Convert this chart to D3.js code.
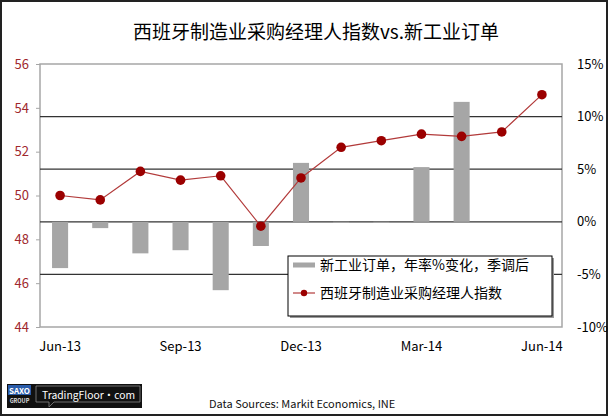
<!DOCTYPE html>
<html>
<head>
<meta charset="utf-8">
<script src="https://cdn.jsdelivr.net/npm/d3@7"></script>
<style>
  body { margin: 0; background: #fff; }
  text { font-family: "Noto Sans CJK SC", "Noto Sans", sans-serif; }
</style>
</head>
<body>
<div id="root"></div>
<script>
// Data
const months = ['Jun-13','Jul-13','Aug-13','Sep-13','Oct-13','Nov-13','Dec-13',
                'Jan-14','Feb-14','Mar-14','Apr-14','May-14','Jun-14'];
const pmi = [50.0, 49.8, 51.1, 50.7, 50.9, 48.6, 50.8, 52.2, 52.5, 52.8, 52.7, 52.9, 54.6];
const orders = [-4.4, -0.6, -3.0, -2.7, -6.5, -2.3, 5.6, -0.1, -0.1, 5.2, 11.4, null, null];
const xTickLabels = ['Jun-13','Sep-13','Dec-13','Mar-14','Jun-14'];
const leftTicks = [44, 46, 48, 50, 52, 54, 56];
const rightTicks = [-10, -5, 0, 5, 10, 15];
const gridTicks = [-5, 0, 5, 10];

const titleText = '西班牙制造业采购经理人指数vs.新工业订单';
const legendBar = '新工业订单，年率%变化，季调后';
const legendLine = '西班牙制造业采购经理人指数';

let width = 608, height = 416;
let plot = {left: 40, right: 562, top: 64, bottom: 327};

var svg = d3.select('#root')
  .append('svg')
  .attr('width', width)
  .attr('height', height);

// outer frame
svg.append('rect')
  .attr('x', 1).attr('y', 1)
  .attr('width', width - 2).attr('height', height - 2)
  .attr('fill', '#fff')
  .attr('stroke', '#222')
  .attr('stroke-width', 2);

// title
svg.append('text')
  .attr('x', 316).attr('y', 39)
  .attr('text-anchor', 'middle')
  .attr('font-size', 19)
  .attr('fill', '#000')
  .text(titleText);

// scales
var xScale = d3.scaleBand()
  .domain(months)
  .range([plot.left, plot.right])
  .paddingInner(0.6)
  .paddingOuter(0.3);

var yLeft = d3.scaleLinear()
  .domain([44, 56])
  .range([plot.bottom, plot.top]);

var yRight = d3.scaleLinear()
  .domain([-10, 15])
  .range([plot.bottom, plot.top]);

var cx = d => xScale(d) + xScale.bandwidth() / 2;

// plot frame
svg.append('rect')
  .attr('x', plot.left).attr('y', plot.top)
  .attr('width', plot.right - plot.left)
  .attr('height', plot.bottom - plot.top)
  .attr('fill', 'none')
  .attr('stroke', '#a6a6a6')
  .attr('stroke-width', 1.5);

// grid lines (right axis)
svg.append('g')
  .selectAll('line')
  .data(gridTicks)
  .enter()
  .append('line')
  .attr('x1', plot.left).attr('x2', plot.right)
  .attr('y1', d => yRight(d)).attr('y2', d => yRight(d))
  .attr('stroke', '#333')
  .attr('stroke-width', 1.2);

// bars
svg.append('g')
  .selectAll('rect')
  .data(months.map((m, i) => ({m: m, v: orders[i]})).filter(d => d.v !== null))
  .enter()
  .append('rect')
  .attr('x', d => xScale(d.m))
  .attr('width', xScale.bandwidth())
  .attr('y', d => yRight(Math.max(0, d.v)))
  .attr('height', d => Math.max(1, Math.abs(yRight(d.v) - yRight(0))))
  .attr('fill', '#a6a6a6');

// PMI line
var line = d3.line()
  .x((d, i) => cx(months[i]))
  .y(d => yLeft(d));

svg.append('path')
  .datum(pmi)
  .attr('d', line)
  .attr('fill', 'none')
  .attr('stroke', '#b23a3a')
  .attr('stroke-width', 1.2);

svg.append('g')
  .selectAll('circle')
  .data(pmi)
  .enter()
  .append('circle')
  .attr('cx', (d, i) => cx(months[i]))
  .attr('cy', d => yLeft(d))
  .attr('r', 4.8)
  .attr('fill', '#9b0000');

// left axis
var leftAxis = svg.append('g')
  .attr('transform', 'translate(' + [plot.left, 0] + ')')
  .call(d3.axisLeft(yLeft).tickValues(leftTicks).tickSize(4).tickPadding(7));
leftAxis.select('.domain').remove();
leftAxis.selectAll('line').attr('stroke', '#a6a6a6');
leftAxis.selectAll('text')
  .attr('font-size', 13)
  .attr('font-family', '"Noto Sans", sans-serif')
  .attr('fill', '#a0282d');

// right axis
var rightAxis = svg.append('g')
  .attr('transform', 'translate(' + [plot.right + 14, 0] + ')')
  .call(d3.axisRight(yRight).tickValues(rightTicks).tickSize(0).tickPadding(1)
    .tickFormat(d => d + '%'));
rightAxis.select('.domain').remove();
rightAxis.selectAll('text')
  .attr('font-size', 13)
  .attr('font-family', '"Noto Sans", sans-serif')
  .attr('fill', '#000');

// bottom axis
var bottomAxis = svg.append('g')
  .attr('transform', 'translate(' + [0, plot.bottom + 11] + ')')
  .call(d3.axisBottom(xScale).tickValues(xTickLabels).tickSize(0).tickPadding(4));
bottomAxis.select('.domain').remove();
bottomAxis.selectAll('text')
  .attr('font-size', 13)
  .attr('font-family', '"Noto Sans", sans-serif')
  .attr('fill', '#000');

// legend
var legend = svg.append('g').attr('transform', 'translate(288,256)');
legend.append('rect')
  .attr('x', 2).attr('y', 2)
  .attr('width', 264).attr('height', 60)
  .attr('fill', '#999');
legend.append('rect')
  .attr('width', 264).attr('height', 60)
  .attr('fill', '#fff')
  .attr('stroke', '#000')
  .attr('stroke-width', 1);
legend.append('rect')
  .attr('x', 5).attr('y', 6.5)
  .attr('width', 22).attr('height', 5)
  .attr('fill', '#a6a6a6');
legend.append('text')
  .attr('x', 32).attr('y', 14)
  .attr('font-size', 14)
  .attr('fill', '#000')
  .text(legendBar);
legend.append('line')
  .attr('x1', 5).attr('x2', 27)
  .attr('y1', 37).attr('y2', 37)
  .attr('stroke', '#b23a3a')
  .attr('stroke-width', 1.2);
legend.append('circle')
  .attr('cx', 16).attr('cy', 37).attr('r', 3.2)
  .attr('fill', '#9b0000');
legend.append('text')
  .attr('x', 32).attr('y', 42)
  .attr('font-size', 14)
  .attr('fill', '#000')
  .text(legendLine);

// logo box
var logo = svg.append('g').attr('transform', 'translate(7,384)');
logo.append('rect')
  .attr('width', 135).attr('height', 24)
  .attr('fill', '#111');
logo.append('rect')
  .attr('x', 1).attr('y', 1)
  .attr('width', 23).attr('height', 10)
  .attr('fill', '#2a5caa');
logo.append('text')
  .attr('x', 12.5).attr('y', 9.5)
  .attr('text-anchor', 'middle')
  .attr('font-size', 8)
  .attr('font-weight', 'bold')
  .attr('font-family', '"DejaVu Sans", sans-serif')
  .attr('fill', '#fff')
  .text('SAXO');
logo.append('text')
  .attr('x', 12.5).attr('y', 19)
  .attr('text-anchor', 'middle')
  .attr('font-size', 5.5)
  .attr('font-weight', 'bold')
  .attr('font-family', '"DejaVu Sans", sans-serif')
  .attr('fill', '#ddd')
  .text('GROUP');
logo.append('path')
  .attr('d', 'M29,2 H133 V18 H47 L42,23 V18 H29 Z')
  .attr('fill', 'none')
  .attr('stroke', '#888')
  .attr('stroke-width', 0.8);
logo.append('text')
  .attr('x', 35).attr('y', 14.5)
  .attr('font-size', 10.5)
  .attr('textLength', 93)
  .attr('lengthAdjust', 'spacingAndGlyphs')
  .attr('font-family', '"DejaVu Sans Condensed", "DejaVu Sans", sans-serif')
  .attr('fill', '#fff')
  .text('TradingFloor·com');

// source note
svg.append('text')
  .attr('x', 209).attr('y', 408)
  .attr('font-size', 11)
  .attr('font-family', '"DejaVu Sans Condensed", "DejaVu Sans", sans-serif')
  .attr('fill', '#111')
  .text('Data Sources: Markit Economics, INE');
</script>
</body>
</html>
